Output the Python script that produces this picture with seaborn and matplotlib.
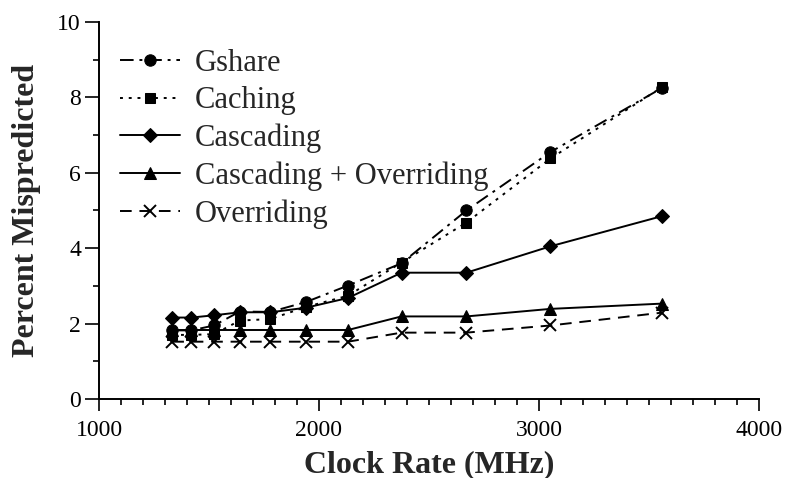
import matplotlib
matplotlib.use("Agg")
import matplotlib.pyplot as plt
import seaborn as sns
import pandas as pd
from matplotlib.ticker import MultipleLocator

clock_mhz = [1333, 1420, 1523, 1640, 1779, 1940, 2132, 2375, 2670, 3052, 3559]
gshare = [1.82, 1.82, 1.95, 2.32, 2.31, 2.57, 3.01, 3.60, 5.00, 6.55, 8.25]
caching = [1.70, 1.70, 1.72, 2.08, 2.12, 2.44, 2.74, 3.62, 4.68, 6.38, 8.27]
cascading = [2.16, 2.16, 2.22, 2.30, 2.30, 2.42, 2.68, 3.35, 3.35, 4.05, 4.85]
casc_over = [1.83, 1.83, 1.83, 1.83, 1.83, 1.83, 1.83, 2.19, 2.19, 2.39, 2.53]
overriding = [1.52, 1.52, 1.52, 1.52, 1.52, 1.52, 1.52, 1.76, 1.76, 1.95, 2.29]

series_names = ["Gshare", "Caching", "Cascading", "Cascading + Overriding", "Overriding"]
series_values = [gshare, caching, cascading, casc_over, overriding]

sns.set_theme(style="ticks")
plt.rcParams["font.family"] = ["Liberation Serif", "DejaVu Serif"]

fig = plt.figure(figsize=(7.85, 4.78), dpi=100)
ax = fig.add_axes([0.1261, 0.1653, 0.9669 - 0.1261, 0.954 - 0.1653])

styles = {
    "Gshare": dict(marker="o", linestyle=(0, (7, 3, 1.5, 3)), markersize=8.2),
    "Caching": dict(marker="s", linestyle=(0, (1.5, 3)), markersize=7.6),
    "Cascading": dict(marker="D", linestyle="-", markersize=7),
    "Cascading + Overriding": dict(marker="^", linestyle="-", markersize=8.2),
    "Overriding": dict(marker="x", linestyle=(0, (6, 4)), markersize=8.5, markeredgewidth=1.4),
}

for name, vals in zip(series_names, series_values):
    df = pd.DataFrame({"x": clock_mhz, "y": vals})
    st = styles[name]
    sns.lineplot(data=df, x="x", y="y", ax=ax, color="black", label=name,
                 linewidth=1.4, markeredgecolor="black", markerfacecolor="black",
                 **st)

ax.set_xlim(1000, 4000)
ax.set_ylim(0, 10)
ax.xaxis.set_major_locator(MultipleLocator(1000))
ax.xaxis.set_minor_locator(MultipleLocator(100))
ax.yaxis.set_major_locator(MultipleLocator(2))
ax.yaxis.set_minor_locator(MultipleLocator(1))

for s in ["top", "right"]:
    ax.spines[s].set_visible(False)
for s in ["left", "bottom"]:
    ax.spines[s].set_linewidth(1.4)
    ax.spines[s].set_color("black")

ax.tick_params(axis="x", which="major", direction="out", length=8.6, width=1.2, labelsize=17, colors="black", pad=6.5)
ax.tick_params(axis="x", which="minor", direction="out", length=4.3, width=1.2, colors="black")
ax.tick_params(axis="y", which="major", direction="out", length=10, width=1.2, labelsize=17, colors="black", pad=3)
ax.tick_params(axis="y", which="minor", direction="out", length=4.3, width=1.2, colors="black")

ax.set_xlabel("Clock Rate (MHz)", fontsize=23, fontweight="bold", labelpad=6.5)
ax.set_ylabel("Percent Mispredicted", fontsize=23, fontweight="bold", labelpad=12)

leg = ax.legend(loc="upper left", frameon=False, fontsize=22, handlelength=1.96,
                handletextpad=0.49, labelspacing=0.27, borderaxespad=0, borderpad=0,
                bbox_to_anchor=(0.0318, 0.928))

fig.savefig("out.png", dpi=100)
